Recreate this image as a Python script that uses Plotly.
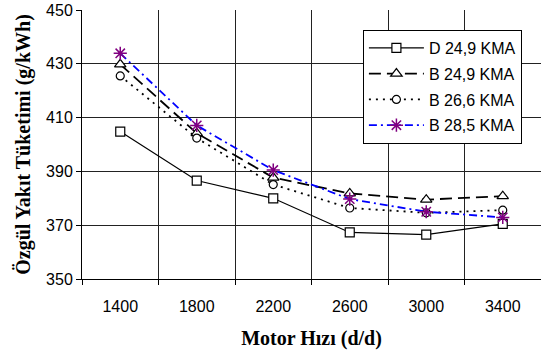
import plotly.graph_objects as go

speeds = ["1400", "1800", "2200", "2600", "3000", "3400"]
d_249 = [404.8, 386.6, 380.0, 367.3, 366.5, 370.5]
b_249 = [429.8, 404.2, 387.7, 381.8, 379.5, 380.8]
b_266 = [425.5, 402.4, 385.1, 376.4, 374.6, 375.6]
b_285 = [433.9, 407.1, 390.5, 379.7, 375.0, 372.9]
names = ["D 24,9 KMA", "B 24,9 KMA", "B 26,6 KMA", "B 28,5 KMA"]

fig = go.Figure()
fig.add_trace(go.Scatter(x=speeds, y=d_249, name=names[0], mode="lines+markers",
                         line=dict(color="black", width=1.2, dash="solid"),
                         marker=dict(symbol="square", size=9, color="white",
                                     line=dict(color="black", width=1.2)),
                         legendgroup="a"))
fig.add_trace(go.Scatter(x=speeds, y=b_249, name=names[1], mode="lines+markers",
                         line=dict(color="black", width=1.8, dash="12px,6px"),
                         marker=dict(symbol="triangle-up", size=10, color="white",
                                     line=dict(color="black", width=1.2)),
                         legendgroup="b"))
fig.add_trace(go.Scatter(x=speeds, y=b_266, name=names[2], mode="lines+markers",
                         line=dict(color="black", width=1.8, dash="2px,5px"),
                         marker=dict(symbol="circle", size=8, color="white",
                                     line=dict(color="black", width=1.2)),
                         legendgroup="c"))
fig.add_trace(go.Scatter(x=speeds, y=b_285, name=names[3], mode="lines+markers",
                         line=dict(color="#0000ff", width=1.8, dash="8px,4px,2px,4px"),
                         marker=dict(symbol="asterisk-open", size=11, color="#800080",
                                     line=dict(color="#800080", width=1.5)),
                         legendgroup="d"))

tickfont = dict(family="Arial, Liberation Sans, sans-serif", size=16, color="black")
titlefont = dict(family="Times New Roman, Liberation Serif, serif", size=20, color="black")

fig.update_layout(
    width=541, height=356,
    margin=dict(l=82, r=0, t=10, b=77),
    paper_bgcolor="white", plot_bgcolor="white",
    showlegend=True,
    legend=dict(x=0.612, y=0.926, xanchor="left", yanchor="top",
                bgcolor="white", bordercolor="black", borderwidth=1,
                font=tickfont, traceorder="grouped", tracegroupgap=2,
                itemwidth=55),
    xaxis=dict(type="category", tickson="boundaries", showgrid=True,
               range=[-0.5, 5.5], automargin=False,
               gridcolor="#222222", gridwidth=1,
               showline=True, linecolor="black", linewidth=1,
               ticks="outside", ticklen=5, tickcolor="black",
               tickfont=tickfont, ticklabelstandoff=13,
               title=dict(text="<b>Motor Hızı (d/d)</b>", font=titlefont, standoff=16)),
    yaxis=dict(range=[350, 450], tickvals=[350, 370, 390, 410, 430, 450],
               automargin=False,
               showgrid=True, gridcolor="#222222", gridwidth=1,
               showline=True, linecolor="black", linewidth=1,
               ticks="outside", ticklen=5, tickcolor="black",
               tickfont=tickfont, zeroline=False,
               title=dict(text="<b>Özgül Yakıt Tüketimi (g/kWh)</b>", font=titlefont, standoff=10)),
)

fig.write_html("out.html", config={"displayModeBar": False},
               post_script="document.body.style.margin='0';document.body.style.overflow='hidden';")
